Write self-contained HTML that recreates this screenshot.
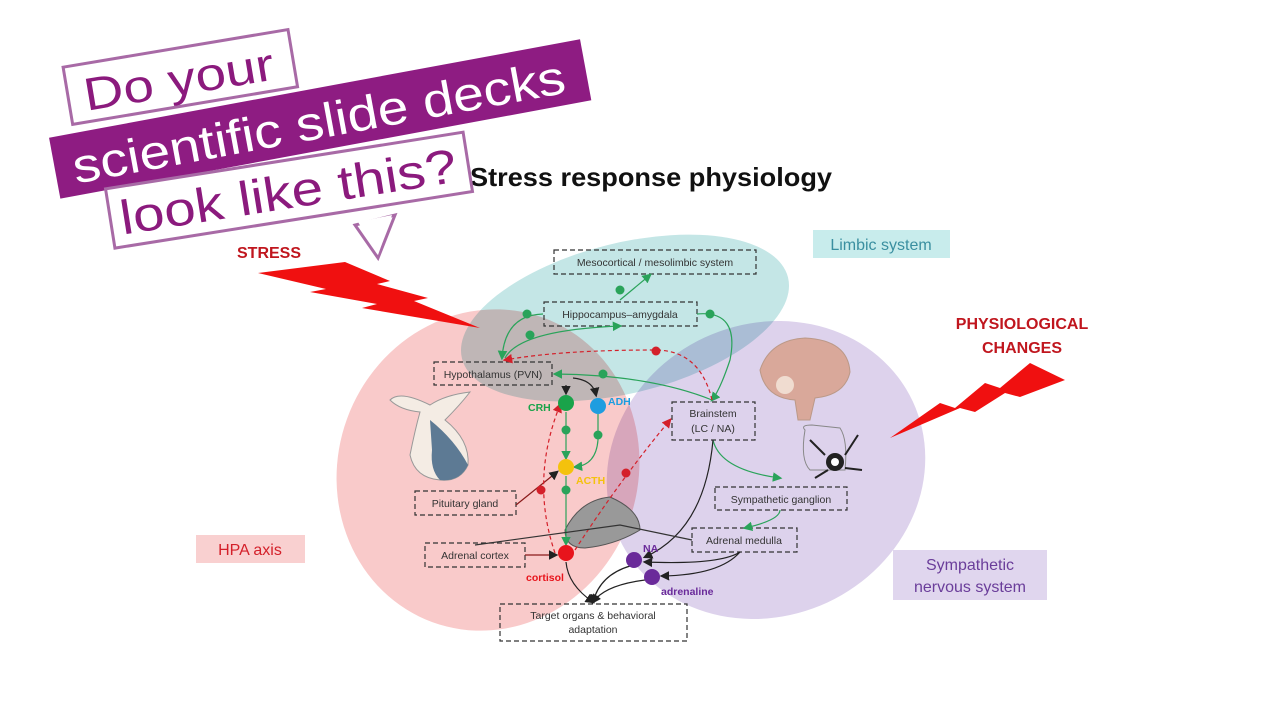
<!DOCTYPE html>
<html><head><meta charset="utf-8"><style>
html,body{margin:0;padding:0;background:#fff;width:1280px;height:720px;overflow:hidden}
svg{display:block}
text{font-family:"Liberation Sans",sans-serif}
.m{mix-blend-mode:multiply}
</style></head><body>
<svg width="1280" height="720" viewBox="0 0 1280 720">
<defs>
<marker id="ab" markerWidth="8" markerHeight="8" refX="6" refY="4" orient="auto"><path d="M0,0 L8,4 L0,8z" fill="#222"/></marker>
<marker id="ag" markerWidth="8" markerHeight="8" refX="6" refY="4" orient="auto"><path d="M0,0 L8,4 L0,8z" fill="#2aa35a"/></marker>
<marker id="ar" markerWidth="8" markerHeight="8" refX="6" refY="4" orient="auto"><path d="M0,0 L8,4 L0,8z" fill="#d4202a"/></marker>
</defs>
<rect width="1280" height="720" fill="#fff"/>
<!-- ellipses -->
<ellipse class="m" cx="625" cy="318" rx="168" ry="75" transform="rotate(-14 625 318)" fill="#c4e6e6"/>
<ellipse class="m" cx="766" cy="470" rx="162" ry="146" transform="rotate(-25 766 470)" fill="#ddd2ec"/>
<ellipse class="m" cx="488" cy="470" rx="150" ry="162" transform="rotate(20 488 470)" fill="#f9caca"/>
<!-- labels -->
<rect x="813" y="230" width="137" height="28" fill="#c8ecec"/>
<text x="881" y="250" font-size="16" fill="#3a8fa0" text-anchor="middle">Limbic system</text>
<rect x="196" y="535" width="109" height="28" fill="#f9d0d0"/>
<text x="250" y="555" font-size="16" fill="#d4202a" text-anchor="middle">HPA axis</text>
<rect x="893" y="550" width="154" height="50" fill="#e0d6ee"/>
<text x="970" y="570" font-size="16" fill="#6a3d9a" text-anchor="middle">Sympathetic</text>
<text x="970" y="592" font-size="16" fill="#6a3d9a" text-anchor="middle">nervous system</text>
<text x="470" y="186" font-size="26" font-weight="bold" fill="#111" textLength="362" lengthAdjust="spacingAndGlyphs">Stress response physiology</text>
<text x="237" y="258" font-size="16" font-weight="bold" fill="#c0161e">STRESS</text>
<polygon points="258,273 345,262 390,281 377,284 428,298 414,301 480,328 362,308 377,304 310,292 326,289" fill="#f01010"/>
<text x="1022" y="329" font-size="16" font-weight="bold" fill="#c0161e" text-anchor="middle">PHYSIOLOGICAL</text>
<text x="1022" y="353" font-size="16" font-weight="bold" fill="#c0161e" text-anchor="middle">CHANGES</text>
<polygon points="890,438 940,403 955,408 985,383 1000,388 1030,363 1065,380 1020,397 1005,393 975,412 960,408" fill="#f01010"/>
<!-- illustrations -->
<g>
<path d="M390,400 Q400,390 430,405 Q445,395 470,392 Q460,405 445,420 Q470,440 468,465 Q460,482 440,480 Q415,478 410,455 Q415,430 420,412 Q400,410 390,400z" fill="#f4ece4" stroke="#999" stroke-width="1"/>
<path d="M430,420 Q455,440 468,465 Q460,482 440,480 Q430,470 432,450z" fill="#5d7a94"/>
<path d="M760,370 Q770,340 805,338 Q848,340 850,372 Q845,395 815,398 L810,420 L798,420 L795,400 Q765,398 760,370z" fill="#d9a89a" stroke="#b98"/>
<circle cx="785" cy="385" r="9" fill="#f0dcd0"/>
<path d="M805,430 Q800,425 812,425 L840,428 Q848,440 845,470 L810,470 Q800,460 805,430z" fill="none" stroke="#888"/>
<circle cx="835" cy="462" r="9" fill="#222"/><circle cx="835" cy="462" r="4" fill="#fff"/>
<path d="M825,455 L810,440 M845,455 L858,435 M845,468 L862,470 M828,470 L815,478" stroke="#222" stroke-width="2"/>
<path d="M565,530 Q580,500 610,497 Q640,510 640,530 Q615,545 585,548 Q565,548 565,530z" fill="#999" stroke="#555"/>
</g>
<!-- dashed boxes -->
<g fill="none" stroke="#333" stroke-width="1.2" stroke-dasharray="5,3">
<rect x="554" y="250" width="202" height="24"/>
<rect x="544" y="302" width="153" height="24"/>
<rect x="434" y="362" width="118" height="23"/>
<rect x="672" y="402" width="83" height="38"/>
<rect x="415" y="491" width="101" height="24"/>
<rect x="715" y="487" width="132" height="23"/>
<rect x="692" y="528" width="105" height="24"/>
<rect x="425" y="543" width="100" height="24"/>
<rect x="500" y="604" width="187" height="37"/>
</g>
<g font-size="10.5" fill="#333" text-anchor="middle">
<text x="655" y="266">Mesocortical / mesolimbic system</text>
<text x="620" y="318">Hippocampus–amygdala</text>
<text x="493" y="378">Hypothalamus (PVN)</text>
<text x="713" y="417">Brainstem</text>
<text x="713" y="432">(LC / NA)</text>
<text x="465" y="507">Pituitary gland</text>
<text x="781" y="503">Sympathetic ganglion</text>
<text x="744" y="544">Adrenal medulla</text>
<text x="475" y="559">Adrenal cortex</text>
<text x="593" y="619">Target organs &amp; behavioral</text>
<text x="593" y="633">adaptation</text>
</g>
<!-- connectors -->
<g fill="none" stroke-width="1.2">
<path d="M620,300 L650,275" stroke="#2aa35a" marker-end="url(#ag)"/>
<path d="M543,314 Q505,315 502,358" stroke="#2aa35a" marker-end="url(#ag)"/>
<path d="M505,358 Q520,330 620,326" stroke="#2aa35a" marker-end="url(#ag)"/>
<path d="M697,314 Q740,310 730,360 Q720,390 712,400" stroke="#2aa35a" marker-end="url(#ag)"/>
<path d="M712,400 Q650,375 555,374" stroke="#2aa35a" marker-end="url(#ag)"/>
<path d="M712,400 Q700,350 655,350 Q560,350 505,360" stroke="#d4202a" stroke-dasharray="4,3" marker-end="url(#ar)"/>
<path d="M566,385 L566,393" stroke="#222" marker-end="url(#ab)"/>
<path d="M573,378 Q593,380 596,395" stroke="#222" marker-end="url(#ab)"/>
<path d="M566,412 L566,458" stroke="#2aa35a" marker-end="url(#ag)"/>
<path d="M598,414 L598,440 Q596,465 575,467" stroke="#2aa35a" marker-end="url(#ag)"/>
<path d="M566,476 L566,544" stroke="#2aa35a" marker-end="url(#ag)"/>
<path d="M516,505 L557,472" stroke="#8a1a1a" marker-end="url(#ab)"/>
<path d="M525,555 L556,555" stroke="#8a1a1a" marker-end="url(#ab)"/>
<path d="M555,553 Q530,480 560,405" stroke="#d4202a" stroke-dasharray="4,3" marker-end="url(#ar)"/>
<path d="M575,550 Q620,480 670,420" stroke="#d4202a" stroke-dasharray="4,3" marker-end="url(#ar)"/>
<path d="M713,440 Q720,470 780,478" stroke="#2aa35a" marker-end="url(#ag)"/>
<path d="M780,510 Q780,520 745,528" stroke="#2aa35a" marker-end="url(#ag)"/>
<path d="M713,440 Q705,530 645,557" stroke="#222" marker-end="url(#ab)"/>
<path d="M740,552 Q720,565 645,562" stroke="#222" marker-end="url(#ab)"/>
<path d="M740,552 Q720,575 662,576" stroke="#222" marker-end="url(#ab)"/>
<path d="M566,562 Q568,585 593,602" stroke="#222" marker-end="url(#ab)"/>
<path d="M630,566 Q600,575 593,602" stroke="#222" marker-end="url(#ab)"/>
<path d="M645,580 Q605,585 593,602" stroke="#222" marker-end="url(#ab)"/>
<path d="M475,545 L620,525 L692,540" stroke="#333"/>
</g>
<g fill="#2aa35a">
<circle cx="620" cy="290" r="4.5"/><circle cx="527" cy="314" r="4.5"/><circle cx="530" cy="335" r="4.5"/>
<circle cx="710" cy="314" r="4.5"/><circle cx="603" cy="374" r="4.5"/><circle cx="566" cy="430" r="4.5"/>
<circle cx="598" cy="435" r="4.5"/><circle cx="566" cy="490" r="4.5"/>
</g>
<g fill="#d4202a"><circle cx="656" cy="351" r="4.5"/><circle cx="541" cy="490" r="4.5"/><circle cx="626" cy="473" r="4.5"/></g>
<circle cx="566" cy="403" r="8" fill="#1aa34a"/>
<circle cx="598" cy="406" r="8" fill="#1e9de0"/>
<circle cx="566" cy="467" r="8" fill="#f4c20d"/>
<circle cx="566" cy="553" r="8" fill="#e8141c"/>
<circle cx="634" cy="560" r="8" fill="#6a2a9a"/>
<circle cx="652" cy="577" r="8" fill="#6a2a9a"/>
<g font-size="10.5" font-weight="bold">
<text x="528" y="411" fill="#1aa34a">CRH</text>
<text x="608" y="405" fill="#1e9de0">ADH</text>
<text x="576" y="484" fill="#f4c20d">ACTH</text>
<text x="526" y="581" fill="#e8141c">cortisol</text>
<text x="643" y="552" fill="#6a2a9a">NA</text>
<text x="661" y="595" fill="#6a2a9a">adrenaline</text>
</g>
<!-- banners -->
<g transform="rotate(-9.5 180 75)">
<rect x="66" y="48" width="228" height="58" fill="#fff" stroke="#a86aa6" stroke-width="3"/>
<text x="82" y="95" font-size="46" fill="#8b1a7d" font-family="'DejaVu Sans',sans-serif" textLength="192" lengthAdjust="spacingAndGlyphs">Do your</text>
</g>
<g transform="rotate(-10.5 320 118)">
<rect x="50" y="88" width="540" height="62" fill="#8e1c82"/>
<text x="68" y="138" font-size="48" fill="#fff" font-family="'DejaVu Sans',sans-serif" textLength="500" lengthAdjust="spacingAndGlyphs">scientific slide decks</text>
</g>
<polygon points="355,225 378,258 395,215" fill="#fff" stroke="#a86aa6" stroke-width="3"/>
<g transform="rotate(-9 290 190)">
<rect x="108" y="160" width="362" height="60" fill="#fff" stroke="#a86aa6" stroke-width="3"/>
<text x="118" y="208" font-size="48" fill="#8b1a7d" font-family="'DejaVu Sans',sans-serif" textLength="340" lengthAdjust="spacingAndGlyphs">look like this?</text>
</g>
<polygon points="358,222 378,255 392,215" fill="#fff"/>
</svg>
</body></html>
